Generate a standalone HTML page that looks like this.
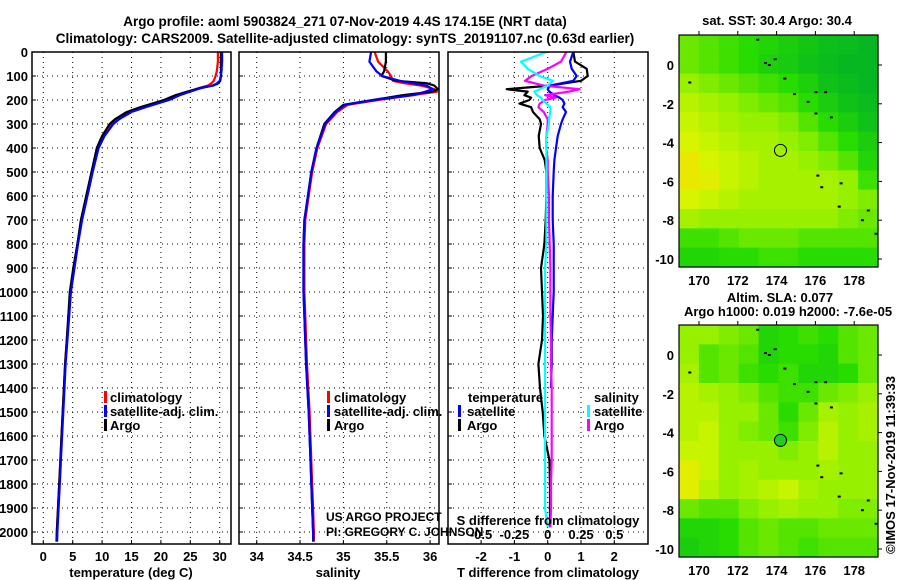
<!DOCTYPE html>
<html><head><meta charset="utf-8"><style>
html,body{margin:0;padding:0;background:#fff;}
svg{display:block;font-family:"Liberation Sans",Arial,sans-serif;}
.b{font-weight:bold;font-size:13px;}
.t{font-weight:bold;font-size:13.5px;}
</style></head><body>
<svg id="svg" width="900" height="580" viewBox="0 0 900 580">
<text class="t" x="345" y="26" text-anchor="middle">Argo profile: aoml 5903824_271 07-Nov-2019 4.4S 174.15E (NRT data)</text>
<text class="t" x="345" y="43" text-anchor="middle">Climatology: CARS2009. Satellite-adjusted climatology: synTS_20191107.nc (0.63d earlier)</text>
<g id="g"></g>
</svg>
<script>
// ---- profile data ----
var depthT = [0,40,80,100,120,130,140,150,165,180,200,230,250,280,300,350,400,500,600,700,800,900,1000,1100,1200,1300,1400,1500,1600,1700,1800,1900,2000,2040];
var tempArgo = [30.2,30.2,30.2,30.2,30.1,29.8,28.9,26.6,24.5,22.5,20.5,16.5,14.2,12.2,11.3,10.0,9.1,8.2,7.3,6.4,5.8,5.1,4.5,4.25,4.0,3.7,3.5,3.3,3.1,2.9,2.7,2.5,2.3,2.25];
var tempClim = [29.7,29.7,29.5,29.3,29.0,28.6,28.0,26.5,24.8,23.0,21.0,17.0,14.6,12.5,11.6,10.2,9.2,8.3,7.4,6.5,5.8,5.2,4.6,4.3,4.0,3.7,3.5,3.3,3.1,2.9,2.7,2.5,2.3,2.3];
var tempSat = [30.4,30.4,30.3,30.2,30.0,29.6,28.8,26.9,25.0,23.2,21.4,17.4,15.0,12.9,11.9,10.4,9.4,8.4,7.5,6.6,5.9,5.3,4.7,4.4,4.1,3.8,3.6,3.4,3.2,3.0,2.8,2.6,2.4,2.35];
var depthS = [0,40,80,100,120,130,140,155,165,180,200,220,250,300,400,500,600,700,800,900,1000,1100,1300,1500,1700,1900,2000,2040];
var salArgo = [35.49,35.49,35.47,35.44,35.61,35.96,36.05,36.09,36.03,35.68,35.34,35.0,34.9,34.78,34.69,34.63,34.59,34.55,34.54,34.54,34.54,34.55,34.57,34.6,34.62,34.64,34.65,34.65];
var salClim = [35.36,35.40,35.51,35.55,35.57,35.70,35.90,36.05,36.08,35.80,35.40,35.05,34.93,34.80,34.70,34.64,34.60,34.56,34.55,34.55,34.55,34.56,34.58,34.61,34.63,34.65,34.66,34.66];
var salSat = [35.32,35.30,35.38,35.45,35.65,35.80,35.96,36.03,35.95,35.80,35.35,35.02,34.91,34.79,34.69,34.63,34.59,34.55,34.54,34.54,34.54,34.55,34.57,34.6,34.62,34.64,34.65,34.65];
var depthD = [0,40,70,100,120,140,155,165,180,190,200,215,230,250,280,300,350,400,450,500,600,700,800,900,1000,1100,1200,1300,1400,1500,1600,1700,1800,1900,1980];
var dTArgo = [0.77,0.82,1.17,1.2,1.0,0.05,-1.23,-0.6,-0.7,-0.5,-0.55,-0.85,-0.5,-0.44,-0.24,-0.2,-0.27,-0.24,-0.09,-0.04,-0.04,-0.06,-0.1,-0.2,-0.17,-0.14,-0.17,-0.28,-0.23,-0.15,-0.1,0.05,0.07,0.07,0.07];
var dTSat = [0.77,0.67,0.72,0.87,0.77,0.07,0.0,0.05,0.2,0.35,0.45,0.5,0.45,0.55,0.45,0.4,0.3,0.25,0.2,0.18,0.15,0.15,0.18,0.18,0.18,0.15,0.12,0.12,0.1,null,null,null,null,null,null];
var dSArgo = [0.14,0.1,0.0,-0.12,-0.17,-0.03,0.24,0.16,-0.02,0.06,-0.02,-0.06,-0.07,-0.03,0.0,0.0,-0.01,-0.01,0.0,0.0,0.01,0.01,0.015,0.02,0.02,0.02,0.025,0.025,0.03,0.03,0.03,0.03,0.025,0.025,0.02];
var dSSat = [-0.01,-0.2,-0.15,-0.06,0.04,0.0,-0.06,-0.1,-0.08,-0.05,-0.04,-0.01,0.02,0.02,0.01,0.01,-0.01,-0.01,-0.01,-0.01,-0.01,-0.01,-0.01,-0.02,-0.02,-0.02,-0.02,-0.02,-0.02,-0.02,-0.02,-0.02,-0.02,-0.02,0.0];
var depthTicks = [0,100,200,300,400,500,600,700,800,900,1000,1100,1200,1300,1400,1500,1600,1700,1800,1900,2000];
var tempTicks = [0,5,10,15,20,25,30];
var salTicks = ["34","34.5","35","35.5","36"];
var dTTicks = ["-2","-1","0","1","2"];
var dSTicks = ["-0.5","-0.25","0","0.25","0.5"];
// ---- map data (rows lat 1.5..-10.5 by 1deg, cols lon 169..179.3) ----
var sstGrid = [
[.45,.40,.35,.30,.25,.20,.15,.10,.08,.05],
[.45,.40,.35,.30,.22,.18,.12,.08,.05,.05],
[.55,.50,.45,.40,.35,.30,.22,.12,.08,.05],
[.65,.60,.55,.50,.45,.40,.30,.20,.12,.08],
[.70,.65,.60,.55,.55,.50,.40,.30,.20,.12],
[.75,.70,.65,.60,.60,.55,.50,.40,.30,.20],
[.85,.75,.70,.65,.60,.60,.55,.50,.40,.25],
[.85,.80,.70,.65,.60,.60,.60,.60,.55,.35],
[.75,.70,.65,.60,.60,.60,.60,.60,.55,.50],
[.60,.55,.55,.55,.55,.55,.55,.55,.50,.45],
[.35,.35,.40,.45,.45,.45,.40,.40,.40,.40],
[.25,.25,.30,.30,.35,.35,.30,.30,.30,.30]];
var slaGrid = [
[.55,.55,.50,.45,.25,.30,.35,.30,.40,.45],
[.55,.40,.45,.40,.25,.30,.30,.25,.40,.45],
[.60,.40,.45,.35,.30,.35,.25,.25,.30,.45],
[.65,.60,.55,.50,.40,.35,.35,.45,.50,.55],
[.65,.65,.55,.55,.45,.30,.45,.60,.55,.60],
[.65,.70,.55,.50,.45,.35,.50,.65,.55,.60],
[.70,.70,.55,.55,.55,.50,.55,.65,.55,.55],
[.80,.70,.55,.60,.55,.55,.55,.60,.55,.55],
[.80,.65,.55,.60,.65,.70,.60,.55,.55,.55],
[.45,.40,.40,.50,.55,.60,.55,.55,.50,.50],
[.25,.25,.30,.40,.45,.40,.40,.45,.45,.45],
[.20,.25,.30,.40,.45,.40,.35,.40,.40,.40]];
var lonTicks = [170,172,174,176,178];
var latTicks = [0,-2,-4,-6,-8,-10];
var floatLon = [174.2], floatLat = [-4.4];
var islandLon = [173.0,173.4,173.6,173.9,174.4,174.9,175.6,176.0,176.5,176.0,176.8,169.5,176.1,176.3,177.3,177.2,178.4,178.7,179.1];
var islandLat = [1.3,0.1,0.0,0.3,-0.7,-1.5,-1.9,-1.4,-1.4,-2.5,-2.7,-0.9,-5.7,-6.3,-6.1,-7.3,-8.0,-7.5,-8.7];

var NS="http://www.w3.org/2000/svg", G=document.getElementById('g');
function el(tag,attrs,parent){var e=document.createElementNS(NS,tag);for(var k in attrs)e.setAttribute(k,attrs[k]);(parent||G).appendChild(e);return e;}
function yD(d){return 52+d*0.24;}
function xT(t){return 43.3+t*5.88;}
function xS(s){return 256.7+(s-34)*86.7;}
function xdT(t){return 547.7+t*33.3;}
function xdS(s){return 547.7+s*133.3;}
var panels=[[32,231],[239,439],[448,648]];
var bottom=544;
panels.forEach(function(p,i){
  depthTicks.forEach(function(d){ if(d>0){
    var l=el('line',{x1:p[0],x2:p[1],y1:yD(d),y2:yD(d),stroke:'#000','stroke-width':1,'stroke-dasharray':'1,4'});
    
    
    el('line',{x1:p[0],x2:p[0]+4,y1:yD(d),y2:yD(d),stroke:'#000'});
  }});
});
depthTicks.forEach(function(d){
  var t=el('text',{x:28,y:yD(d)+5,'text-anchor':'end','class':'b'}); t.textContent=d;
  
  
});
function vgrid(x,p){var l=el('line',{x1:x,x2:x,y1:52,y2:bottom,stroke:'#000','stroke-dasharray':'1,4'});
  
  
  el('line',{x1:x,x2:x,y1:bottom,y2:bottom-4,stroke:'#000'});}
tempTicks.forEach(function(t){vgrid(xT(t));
  var e=el('text',{x:xT(t),y:561,'text-anchor':'middle','class':'b'});e.textContent=t;
  
  });
salTicks.forEach(function(s){vgrid(xS(+s));
  var e=el('text',{x:xS(+s),y:561,'text-anchor':'middle','class':'b'});e.textContent=s;
  
  });
dTTicks.forEach(function(s){vgrid(xdT(+s));
  var e=el('text',{x:xdT(+s),y:561,'text-anchor':'middle','class':'b'});e.textContent=s;
  
  });
dSTicks.forEach(function(s){
  var e=el('text',{x:xdS(+s),y:539,'text-anchor':'middle','class':'b'});e.textContent=s;
  
  });
function line(dep,vals,fx,color,name){
  var pts=[];for(var i=0;i<dep.length;i++){if(vals[i]!=null)pts.push(fx(vals[i]).toFixed(1)+','+yD(dep[i]).toFixed(1));}
  var l=el('polyline',{points:pts.join(' '),fill:'none',stroke:color,'stroke-width':2.2,'stroke-linejoin':'round'});
  
  
}
line(depthT,tempClim,xT,'#f00','temp-climatology-line');
line(depthT,tempArgo,xT,'#000','temp-argo-line');
line(depthT,tempSat,xT,'#00f','temp-satellite-line');
line(depthS,salClim,xS,'#f00','sal-climatology-line');
line(depthS,salArgo,xS,'#000','sal-argo-line');
line(depthS,salSat,xS,'#00f','sal-satellite-line');
line(depthD,dTArgo,xdT,'#000','dT-argo-line');
line(depthD,dTSat,xdT,'#00f','dT-satellite-line');
line(depthD,dSArgo,xdS,'#f0f','dS-argo-line');
line(depthD,dSSat,xdS,'#0ff','dS-satellite-line');
panels.forEach(function(p){var r=el('rect',{x:p[0],y:52,width:p[1]-p[0],height:bottom-52,fill:'none',stroke:'#000','stroke-width':1.5});
  
  });
function txt(x,y,s,name,cls,anchor,extra){var e=el('text',Object.assign({x:x,y:y,'class':cls||'b','text-anchor':anchor||'start'},extra||{}));e.textContent=s;
  
  return e;}
function mark(x,y,c){el('rect',{x:x,y:y-11,width:3,height:12,fill:c});}
// axis titles
txt(131,577,'temperature (deg C)','x-axis-title-temperature','b','middle');
txt(338,577,'salinity','x-axis-title-salinity','b','middle');
txt(548,577,'T difference from climatology','x-axis-title-t-difference','b','middle');
txt(548,525,'S difference from climatology','s-axis-title','b','middle');
// legends
[['climatology','#f00'],['satellite-adj. clim.','#00f'],['Argo','#000']].forEach(function(l,i){
  mark(104,402+i*14,l[1]); txt(110,402+i*14,l[0],'legend-entry-temp');
  mark(327,402+i*14,l[1]); txt(334,402+i*14,l[0],'legend-entry-sal');});
txt(468,402,'temperature','legend-title-temperature');
mark(458,416,'#00f');txt(467,416,'satellite','legend-entry-temp-satellite');
mark(458,430,'#000');txt(467,430,'Argo','legend-entry-temp-argo');
txt(594,402,'salinity','legend-title-salinity');
mark(587,416,'#0ff');txt(594,416,'satellite','legend-entry-sal-satellite');
mark(587,430,'#f0f');txt(594,430,'Argo','legend-entry-sal-argo');
txt(326,521,'US ARGO PROJECT','credit-project','','start',{style:'font-size:12px'});
txt(326,536,'PI: GREGORY C. JOHNSON','credit-pi','','start',{style:'font-size:12px'});
// maps
var stops=[[0,[0,176,40]],[0.3,[40,220,0]],[0.55,[150,240,0]],[0.75,[215,245,0]],[0.9,[245,225,0]],[1,[250,190,0]]];
function col(v){for(var i=1;i<stops.length;i++){if(v<=stops[i][0]){var a=stops[i-1],b=stops[i],f=(v-a[0])/(b[0]-a[0]);
  return 'rgb('+a[1].map(function(c,j){return Math.round(c+(b[1][j]-c)*f);}).join(',')+')';}}return 'rgb(250,190,0)';}
function drawMap(grid,top,lat0y,name){
  var left=679,right=878,bot=top+232,k=19.4;
  function mx(lon){return 699+(lon-170)*k;}
  function my(lat){return lat0y-lat*k;}
  var cw=(right-left)/grid[0].length, ch=(bot-top)/grid.length;
  grid.forEach(function(row,r){row.forEach(function(v,c){
    var e=el('rect',{x:left+c*cw,y:top+r*ch,width:cw+0.6,height:ch+0.6,fill:col(v)});
    
    });});
  islandLon.forEach(function(lo,i){el('rect',{x:mx(lo)-1,y:my(islandLat[i])-1,width:3,height:2,fill:'#000'});});
  floatLon.forEach(function(lo,i){var c=el('circle',{cx:mx(lo),cy:my(floatLat[i]),r:6,fill:name=='sla-map'?'#20d020':'none',stroke:'#000','stroke-width':1});
    
    });
  var f=el('rect',{x:left,y:top,width:right-left,height:bot-top,fill:'none',stroke:'#000','stroke-width':1.2});
  
  
  lonTicks.forEach(function(lo){el('line',{x1:mx(lo),x2:mx(lo),y1:top,y2:top-4,stroke:'#000'});
    txt(mx(lo),bot+18,lo,name+'-lon-label','b','middle');});
  latTicks.forEach(function(la){el('line',{x1:right,x2:right+4,y1:my(la),y2:my(la),stroke:'#000'});
    txt(674,my(la)+5,la,name+'-lat-label','b','end');});
}
drawMap(sstGrid,35,65,'sst-map');
drawMap(slaGrid,325,355,'sla-map');
txt(777,25,'sat. SST: 30.4 Argo: 30.4','sst-map-title','b','middle');
txt(780,302,'Altim. SLA: 0.077','sla-map-title','b','middle');
txt(788,316,'Argo h1000: 0.019 h2000: -7.6e-05','sla-map-subtitle','b','middle');
txt(0,0,'©IMOS 17-Nov-2019 11:39:33','timestamp','','middle',{transform:'translate(895,465) rotate(-90)',style:'font-size:13px'});
</script>
</body></html>
